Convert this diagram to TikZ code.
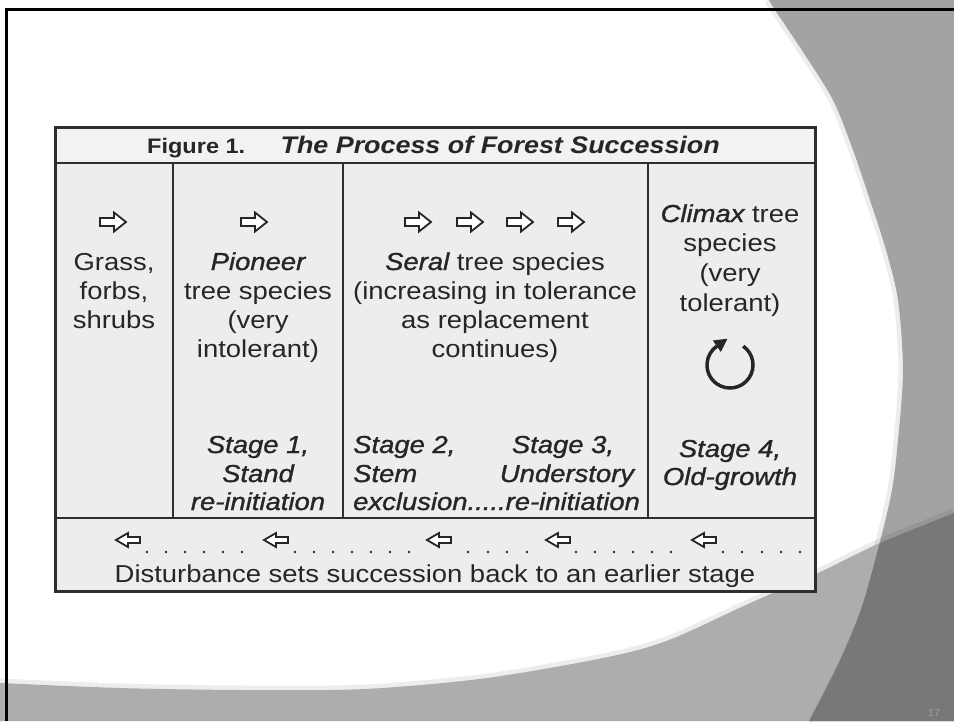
\documentclass[tikz,border=0pt]{standalone}
\usepackage{fontspec}
\setmainfont{Liberation Sans}[FakeStretch=1.12]
\newfontfamily\heavyfont{Liberation Sans}[FakeStretch=1.12,FakeBold=1.2]
\newcommand\hv[1]{{\heavyfont\itshape #1}}

\definecolor{ink}{HTML}{262626}
\definecolor{rule}{HTML}{2E2E2E}
\definecolor{panel}{HTML}{EDEDED}
\definecolor{panelhead}{HTML}{F2F2F2}
\definecolor{greyA}{HTML}{A3A3A3}
\definecolor{greyB}{HTML}{ADADAD}
\definecolor{greyC}{HTML}{787878}
\definecolor{pagenum}{HTML}{9C9C9C}

\tikzset{
  body/.style={font=\fontsize{24.5}{29}\selectfont, text=ink, inner sep=0pt, anchor=base},
  stagetxt/.style={font=\fontsize{24.5}{29}\heavyfont\itshape, text=ink, inner sep=0pt, anchor=base},
  glyph/.style={draw=ink, fill=white, line width=1.8pt, line join=miter},
  tablerule/.style={draw=rule, line width=2.6pt},
  rarrow/.pic={\path[glyph] (-13,-4) -- (1,-4) -- (1,-9.5) -- (13,0) -- (1,9.5) -- (1,4) -- (-13,4) -- cycle;},
  larrow/.pic={\path[glyph] (12,-3) -- (0,-3) -- (0,-7) -- (-12,0) -- (0,7) -- (0,3) -- (12,3) -- cycle;},
}

\begin{document}
\begin{tikzpicture}[x=1pt,y=-1pt]
\useasboundingbox (0,0) rectangle (954,721);

% slide background
\fill[white] (0,0) rectangle (954,721);

% soft shadow along the right-hand shape
\draw[black, opacity=0.07, line width=9pt]
  plot[smooth] coordinates {(769,0) (775,10) (805,55) (833,100) (853,150) (870,200) (886,250) (898,300) (903,370) (898,440) (890,500) (864,600) (840,660) (809,721)};
\fill[greyA]
  plot[smooth] coordinates {(769,0) (775,10) (805,55) (833,100) (853,150) (870,200) (886,250) (898,300) (903,370) (898,440) (890,500) (864,600) (840,660) (809,721)}
  -- (954,721) -- (954,0) -- cycle;

% soft shadow along the bottom band
\draw[black, opacity=0.07, line width=9pt]
  plot[smooth] coordinates {(0,683) (120,688) (243,690) (365,689) (487,678) (608,657) (669,640) (748,604) (818,573) (880,543) (954,513)};
\fill[greyB]
  plot[smooth] coordinates {(0,683) (120,688) (243,690) (365,689) (487,678) (608,657) (669,640) (748,604) (818,573) (880,543) (954,513)}
  -- (954,721) -- (0,721) -- cycle;

% where both shapes overlap
\begin{scope}
  \clip plot[smooth] coordinates {(769,0) (775,10) (805,55) (833,100) (853,150) (870,200) (886,250) (898,300) (903,370) (898,440) (890,500) (864,600) (840,660) (809,721)}
    -- (954,721) -- (954,0) -- cycle;
  \fill[greyC]
    plot[smooth] coordinates {(0,683) (120,688) (243,690) (365,689) (487,678) (608,657) (669,640) (748,604) (818,573) (880,543) (954,513)}
    -- (954,721) -- (0,721) -- cycle;
\end{scope}

% slide frame
\draw[black, line width=3pt] (5,9.5) -- (954,9.5);
\draw[black, line width=3pt] (6.5,8) -- (6.5,721);

% page number
\node[text=pagenum, font=\fontsize{10}{12}\selectfont, inner sep=0pt] (pg) at (934,713) {17};

% ---- the table ----
\fill[panel] (55,127) rectangle (815,591);
\fill[panelhead] (55,127) rectangle (815,163);
\draw[tablerule] (173,163) -- (173,518);
\draw[tablerule] (343,163) -- (343,518);
\draw[tablerule] (648,163) -- (648,518);
\draw[tablerule] (55,163) -- (815,163);
\draw[tablerule] (55,518) -- (815,518);
\draw[tablerule, line width=3pt] (55,127) rectangle (815,591);

% title
\node[font=\fontsize{21}{25}\selectfont\bfseries, text=ink, inner sep=0pt, anchor=base west] (fignum) at (147,153) {Figure 1.};
\node[font=\fontsize{24}{28}\selectfont\bfseries\itshape, text=ink, inner sep=0pt, anchor=base east] (title) at (720,153) {The Process of Forest Succession};

% forward arrows
\pic at (113,222) {rarrow};
\pic at (254,222) {rarrow};
\pic at (418,222) {rarrow};
\pic at (470,222) {rarrow};
\pic at (520,222) {rarrow};
\pic at (571,222) {rarrow};

% column 1
\node[body] (c1a) at (114,270) {Grass,};
\node[body] (c1b) at (114,299) {forbs,};
\node[body] (c1c) at (114,328) {shrubs};

% column 2
\node[body] (c2a) at (258,270) {\hv{Pioneer}};
\node[body] (c2b) at (258,299) {tree species};
\node[body] (c2c) at (258,328) {(very};
\node[body] (c2d) at (258,357) {intolerant)};
\node[stagetxt] (s1a) at (258,453) {Stage 1,};
\node[stagetxt] (s1b) at (258,482) {Stand};
\node[stagetxt] (s1c) at (258,510) {re-initiation};

% column 3
\node[body] (c3a) at (495,270) {\hv{Seral} tree species};
\node[body] (c3b) at (495,299) {(increasing in tolerance};
\node[body] (c3c) at (495,328) {as replacement};
\node[body] (c3d) at (495,357) {continues)};
\node[stagetxt, anchor=base west] (s2a) at (353,453) {Stage 2,};
\node[stagetxt, anchor=base west] (s2b) at (353,482) {Stem};
\node[stagetxt, anchor=base west] (s2c) at (353,510) {exclusion.....re-initiation};
\node[stagetxt] (s3a) at (563,453) {Stage 3,};
\node[stagetxt] (s3b) at (567,482) {Understory};

% column 4
\node[body] (c4a) at (730,222) {\hv{Climax} tree};
\node[body] (c4b) at (730,251) {species};
\node[body] (c4c) at (730,281) {(very};
\node[body] (c4d) at (730,311) {tolerant)};
\draw[ink, line width=3.5pt] (730,365) ++(-55:23) arc[start angle=-55, end angle=235, radius=23];
\fill[ink] (727.4,338.7) -- (720.8,351.9) -- (712.8,340.5) -- cycle;
\node[stagetxt] (s4a) at (730,457) {Stage 4,};
\node[stagetxt] (s4b) at (730,485) {Old-growth};

% disturbance row
\pic at (128,540) {larrow};
\pic at (276,540) {larrow};
\pic at (439,540) {larrow};
\pic at (558,540) {larrow};
\pic at (704,540) {larrow};
\foreach \x in {147,166,185,204,223,242,
                295,314,333,352,371,390,409,
                468,488,507,527,
                576,595,614,633,652,671,
                723,742,762,781,800}
  \fill[ink] (\x,552) circle (1.4);
\node[body] (dist) at (435,582) {Disturbance sets succession back to an earlier stage};
\end{tikzpicture}
\end{document}
